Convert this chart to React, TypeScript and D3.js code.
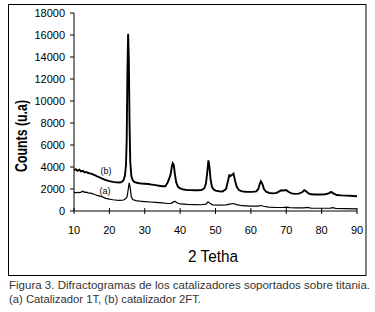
import React from "react";
import * as d3 from "d3";

const xTicks = [10, 20, 30, 40, 50, 60, 70, 80, 90];
const yTicks = [0, 2000, 4000, 6000, 8000, 10000, 12000, 14000, 16000, 18000];

const thetaB = [10, 10.5, 11, 11.5, 12, 12.5, 13, 13.5, 14, 14.5, 15, 15.5, 16, 16.5, 17, 17.5, 18, 18.5, 19, 19.5, 20, 21, 22, 23, 23.5, 24, 24.4, 24.7, 24.9, 25.1, 25.3, 25.5, 25.7, 25.9, 26.2, 26.6, 27, 28, 29, 30, 31, 32, 33, 34, 35, 35.8, 36.5, 36.9, 37.3, 37.7, 37.9, 38.2, 38.5, 38.9, 39.4, 40, 41, 42, 43, 44, 45, 46, 46.8, 47.3, 47.7, 48, 48.3, 48.6, 49, 49.5, 50, 51, 52, 53, 53.5, 53.9, 54.3, 54.7, 55.1, 55.5, 56, 56.6, 57.5, 58.5, 59.5, 60.5, 61.5, 62.1, 62.5, 62.8, 63.2, 63.7, 64.3, 65.2, 66.3, 67.3, 68, 68.6, 69.2, 70, 70.6, 71.5, 72.5, 73.5, 74.5, 75.1, 75.6, 76.3, 77, 78, 79, 80, 81, 82, 82.7, 83.3, 84.3, 85.5, 87, 88, 89, 90];
const countsB = [3700, 3800, 3650, 3750, 3600, 3650, 3500, 3550, 3450, 3420, 3380, 3300, 3250, 3150, 3100, 3000, 2950, 2880, 2800, 2760, 2720, 2650, 2600, 2590, 2650, 2800, 3200, 4200, 6500, 12500, 16100, 13800, 8000, 4500, 3200, 2800, 2650, 2550, 2500, 2480, 2450, 2400, 2350, 2300, 2250, 2250, 2600, 2950, 3300, 4100, 4350, 4200, 3400, 2600, 2200, 2050, 1950, 1900, 1900, 1880, 1880, 1900, 2050, 2500, 3600, 4600, 4000, 2900, 2200, 1950, 1850, 1800, 1780, 2000, 2700, 3250, 3200, 3300, 3400, 2800, 2200, 1900, 1780, 1750, 1740, 1740, 1780, 2000, 2450, 2700, 2500, 2000, 1750, 1640, 1600, 1650, 1780, 1880, 1860, 1900, 1750, 1600, 1560, 1580, 1700, 1890, 1800, 1600, 1520, 1500, 1500, 1500, 1520, 1600, 1730, 1600, 1450, 1420, 1400, 1380, 1360, 1340];

const thetaA = [10, 10.5, 11, 11.5, 12, 12.5, 13, 13.5, 14, 15, 15.5, 16, 16.5, 17, 18, 19, 20, 21, 22, 23, 24, 24.6, 25, 25.3, 25.6, 25.9, 26.2, 26.6, 27.5, 28.5, 30, 31.5, 33, 35, 36.5, 37.5, 38.2, 38.6, 39.2, 40, 42, 44, 46, 47.3, 47.9, 48.4, 49.2, 51, 53, 54, 55, 56, 57.5, 60, 62, 62.9, 63.6, 65, 67, 69, 70, 71, 73, 75, 76, 77, 80, 82.5, 83, 84, 87, 90];
const countsA = [1720, 1650, 1700, 1680, 1720, 1800, 1700, 1720, 1650, 1600, 1550, 1480, 1420, 1380, 1280, 1150, 1080, 1020, 990, 970, 1000, 1100, 1300, 1900, 2550, 2100, 1300, 1050, 950, 900, 860, 820, 780, 730, 680, 700, 850, 880, 720, 640, 600, 580, 570, 620, 830, 700, 560, 540, 560, 620, 680, 580, 480, 440, 440, 500, 430, 360, 320, 320, 360, 310, 280, 290, 330, 270, 250, 260, 300, 240, 220, 200];

const seriesLabels = ["(b)", "(a)"];
const xTitle = "2 Tetha";
const yTitle = "Counts (u.a)";
const captionLines = [
  "Figura 3. Difractogramas de los catalizadores soportados sobre titania.",
  "(a) Catalizador 1T, (b) catalizador 2FT.",
];

export default function App() {
  const W = 375, H = 312;
  const x = d3.scaleLinear().domain([10, 90]).range([74, 357]);
  const y = d3.scaleLinear().domain([0, 18000]).range([211, 13]);
  const line = d3.line<[number, number]>().x((d) => x(d[0])).y((d) => y(d[1]));
  const dataB = thetaB.map((t, i) => [t, countsB[i]] as [number, number]);
  const dataA = thetaA.map((t, i) => [t, countsA[i]] as [number, number]);
  const font = "Arial, 'Liberation Sans', sans-serif";
  return (
    <svg width={W} height={H} style={{ position: "absolute", left: 0, top: 0, background: "#fff" }}>
      <rect x={8.5} y={4.5} width={357.5} height={271} fill="none" stroke="#000" strokeWidth={1} />
      {/* axes */}
      <line x1={74} x2={74} y1={y(18000)} y2={y(0)} stroke="#000" strokeWidth={1} />
      <line x1={74} x2={357} y1={y(0)} y2={y(0)} stroke="#000" strokeWidth={1} />
      {yTicks.map((t) => (
        <g key={"y" + t}>
          <line x1={70} x2={74} y1={y(t)} y2={y(t)} stroke="#000" />
          <text x={65} y={y(t) + 4} textAnchor="end" fontSize={11} fontFamily={font} fill="#000">{t}</text>
        </g>
      ))}
      {xTicks.map((t) => (
        <g key={"x" + t}>
          <line x1={x(t)} x2={x(t)} y1={y(0) - 3} y2={y(0) + 3} stroke="#000" />
          <text x={x(t)} y={234} textAnchor="middle" fontSize={11} fontFamily={font} fill="#000">{t}</text>
        </g>
      ))}
      <path d={line(dataA) || ""} fill="none" stroke="#000" strokeWidth={1.2} />
      <path d={line(dataB) || ""} fill="none" stroke="#000" strokeWidth={1.9} />
      <text x={106} y={174} textAnchor="middle" fontSize={9} fontFamily={font}>{seriesLabels[0]}</text>
      <text x={105} y={194} textAnchor="middle" fontSize={9} fontFamily={font}>{seriesLabels[1]}</text>
      <text x={213} y={262} textAnchor="middle" fontSize={17} fontFamily={font} textLength={50} lengthAdjust="spacingAndGlyphs">{xTitle}</text>
      <text transform="translate(27,136) rotate(-90)" textAnchor="middle" fontSize={17} fontWeight="bold" fontFamily={font} textLength={72} lengthAdjust="spacingAndGlyphs">{yTitle}</text>
      <text x={9} y={289} fontSize={10.5} fontFamily={font} fill="#333" textLength={361} lengthAdjust="spacingAndGlyphs">{captionLines[0]}</text>
      <text x={9} y={303} fontSize={10.5} fontFamily={font} fill="#333" textLength={192} lengthAdjust="spacingAndGlyphs">{captionLines[1]}</text>
    </svg>
  );
}
